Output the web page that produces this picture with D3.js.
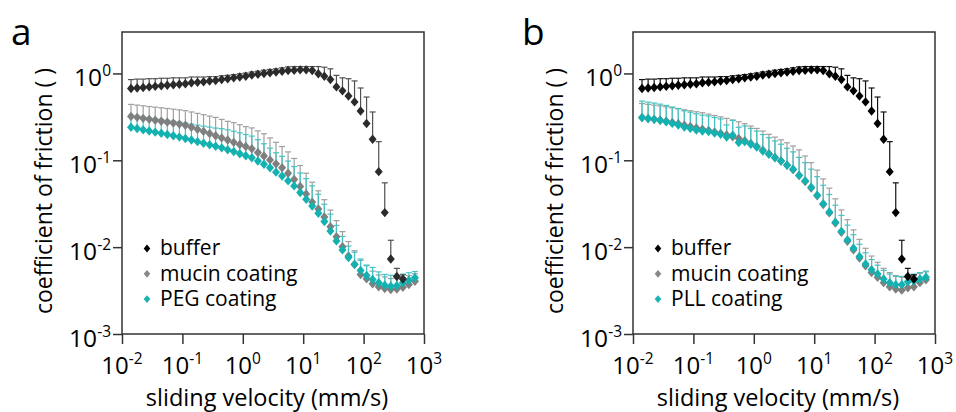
<!DOCTYPE html>
<html><head><meta charset="utf-8">
<script src="https://cdn.jsdelivr.net/npm/d3@7"></script>
<style>
body{margin:0;background:#fff}
svg{display:block}
text{font-family:"Open Sans",sans-serif;fill:#000}
</style>
</head><body>
<svg id="c" width="956" height="412"></svg>
<script>
// sliding velocity (mm/s)
const velocity = [0.0141,0.0178,0.0224,0.0282,0.0355,0.0447,0.0562,0.0708,0.0891,0.112,
  0.141,0.178,0.224,0.282,0.355,0.447,0.562,0.708,0.891,1.12,
  1.41,1.78,2.24,2.82,3.55,4.47,5.62,7.08,8.91,11.2,
  14.1,17.8,22.4,28.2,35.5,44.7,56.2,70.8,89.1,112,
  141,178,224,282,355,447,562,708];

const bufferCof = [0.67,0.68,0.69,0.70,0.71,0.72,0.73,0.74,0.75,0.76,
  0.78,0.79,0.80,0.82,0.83,0.85,0.87,0.89,0.91,0.93,
  0.96,0.98,1.00,1.02,1.04,1.06,1.08,1.09,1.10,1.10,
  1.08,0.99,0.93,0.85,0.70,0.63,0.55,0.47,0.37,0.265,
  0.175,0.074,0.025,0.0073,0.0046,0.0043];
const bufferErr = [0.18,0.18,0.17,0.17,0.16,0.16,0.15,0.15,0.14,0.13,
  0.13,0.12,0.11,0.10,0.09,0.09,0.08,0.08,0.08,0.08,
  0.08,0.08,0.09,0.09,0.09,0.10,0.11,0.11,0.10,0.10,
  0.12,0.21,0.25,0.28,0.25,0.26,0.32,0.35,0.31,0.27,
  0.185,0.09,0.03,0.0047,0.0011,0.0005];

const mucinCofA = [0.320,0.312,0.304,0.296,0.289,0.282,0.275,0.268,0.261,0.253,
  0.240,0.227,0.215,0.203,0.192,0.181,0.171,0.161,0.152,0.144,
  0.136,0.123,0.112,0.101,0.091,0.082,0.071,0.060,0.050,0.041,
  0.0330,0.0275,0.0222,0.0172,0.0132,0.0101,0.0079,0.0063,0.00485,0.00432,
  0.00379,0.00349,0.00334,0.00325,0.0033,0.00345,0.00371,0.00404];
const mucinErrA = [0.12,0.12,0.12,0.12,0.12,0.12,0.12,0.12,0.12,0.12,
  0.12,0.12,0.12,0.12,0.12,0.115,0.11,0.11,0.105,0.10,
  0.10,0.095,0.09,0.08,0.07,0.062,0.054,0.045,0.037,0.03,
  0.023,0.017,0.013,0.0095,0.007,0.005,0.0037,0.0028,0.0022,0.0018,
  0.0015,0.0013,0.0012,0.0011,0.0011,0.001,0.001,0.0009];

const pegCof = [0.240,0.232,0.224,0.217,0.211,0.205,0.198,0.192,0.185,0.178,
  0.171,0.164,0.157,0.151,0.145,0.139,0.132,0.126,0.119,0.113,
  0.107,0.098,0.090,0.082,0.073,0.066,0.058,0.0507,0.0425,0.0356,
  0.0298,0.0246,0.0197,0.0153,0.0118,0.0093,0.0076,0.00634,0.0054,0.00472,
  0.00424,0.00389,0.00365,0.00355,0.00361,0.00389,0.00417,0.00444];
const pegErr = [0.09,0.09,0.09,0.09,0.09,0.09,0.09,0.09,0.09,0.09,
  0.09,0.09,0.09,0.09,0.09,0.092,0.092,0.09,0.088,0.085,
  0.083,0.075,0.065,0.056,0.049,0.045,0.04,0.034,0.029,0.026,
  0.021,0.016,0.0115,0.0087,0.006,0.004,0.0027,0.0024,0.0019,0.0015,
  0.0016,0.0013,0.0012,0.0012,0.0011,0.001,0.0009,0.0008];

const mucinCofB = [0.31,0.303,0.296,0.289,0.281,0.272,0.263,0.254,0.245,0.236,
  0.228,0.22,0.212,0.204,0.196,0.187,0.178,0.168,0.156,0.144,
  0.131,0.119,0.108,0.098,0.088,0.078,0.067,0.057,0.048,0.039,
  0.031,0.0248,0.019,0.0148,0.0117,0.0093,0.0075,0.0061,0.0051,0.0045,
  0.0039,0.0035,0.0033,0.0032,0.0034,0.0035,0.0039,0.0042];
const mucinErrB = [0.14,0.138,0.136,0.134,0.132,0.13,0.129,0.128,0.127,0.126,
  0.125,0.12,0.116,0.112,0.108,0.104,0.1,0.096,0.092,0.089,
  0.086,0.08,0.077,0.074,0.071,0.068,0.065,0.055,0.046,0.038,
  0.03,0.023,0.017,0.012,0.009,0.0065,0.0048,0.0036,0.0028,0.0022,
  0.0018,0.0016,0.0014,0.0013,0.0012,0.0012,0.0011,0.001];

const pllCof = [0.31,0.302,0.296,0.288,0.278,0.266,0.255,0.241,0.233,0.223,
  0.217,0.214,0.206,0.199,0.185,0.194,0.16,0.164,0.153,0.142,
  0.128,0.117,0.107,0.098,0.0877,0.079,0.067,0.058,0.049,0.0397,
  0.0316,0.0254,0.0194,0.0152,0.0121,0.0097,0.0078,0.0064,0.0055,0.0049,
  0.0043,0.0039,0.0037,0.0037,0.004,0.0041,0.0043,0.0045];
const pllErr = [0.17,0.165,0.16,0.155,0.15,0.145,0.14,0.13,0.125,0.12,
  0.114,0.11,0.105,0.1,0.07,0.094,0.08,0.085,0.08,0.075,
  0.07,0.065,0.06,0.055,0.05,0.046,0.041,0.036,0.03,0.025,
  0.02,0.015,0.011,0.008,0.0058,0.0042,0.003,0.0022,0.0017,0.0013,
  0.0011,0.001,0.0009,0.0009,0.0008,0.0008,0.0008,0.0008];

const xTickExps = [-2,-1,0,1,2,3];
const yTickExps = [-3,-2,-1,0];
const panelLetters = ["a","b"];
const xTitle = "sliding velocity (mm/s)";
const yTitle = "coefficient of friction ( )";
const legendA = ["buffer","mucin coating","PEG coating"];
const legendB = ["buffer","mucin coating","PLL coating"];

const svg = d3.select("#c");
const diamond = (w,h) => `M0,${-h}L${w},0L0,${h}L${-w},0Z`;

const panels = [
  {dx:0, letter:panelLetters[0], legend:legendA, series:[
    {v:mucinCofA, e:mucinErrA, fill:"#7f7f7f", err:"#a0a0a0"},
    {v:pegCof, e:pegErr, fill:"#14b1b1", err:"#45c3c3"},
    {v:bufferCof, e:bufferErr, fill:"#2b2b2b", err:"#505050"}]},
  {dx:511, letter:panelLetters[1], legend:legendB, series:[
    {v:mucinCofB, e:mucinErrB, fill:"#7f7f7f", err:"#a0a0a0"},
    {v:pllCof, e:pllErr, fill:"#14b1b1", err:"#45c3c3"},
    {v:bufferCof, e:bufferErr, fill:"#000", err:"#111"}]}
];
const legendFill = [["#000","#888","#1ab3b3"],["#000","#888","#1ab3b3"]];

panels.forEach((p, pi) => {
  const L = 122 + p.dx, R = 424 + p.dx, T = 32, B = 334;
  const x = d3.scaleLog().domain([1e-2, 1e3]).range([L, R]);
  const y = d3.scaleLog().domain([1e-3, 3]).range([B, T]);
  const g = svg.append("g");

  g.append("rect").attr("x", L).attr("y", T).attr("width", R - L).attr("height", B - T)
    .attr("fill", "none").attr("stroke", "#333").attr("stroke-width", 1.5);

  const xAxis = g.append("g").attr("transform", `translate(0,${B})`)
    .call(d3.axisBottom(x).tickValues(xTickExps.map(e => Math.pow(10, e))).tickSize(10).tickFormat(""));
  const yAxis = g.append("g").attr("transform", `translate(${L},0)`)
    .call(d3.axisLeft(y).tickValues(yTickExps.map(e => Math.pow(10, e))).tickSize(9).tickFormat(""));
  [xAxis, yAxis].forEach(a => {
    a.select(".domain").remove();
    a.selectAll("line").attr("stroke", "#333").attr("stroke-width", 1.5);
  });

  xTickExps.forEach(e => {
    const t = g.append("text").attr("x", x(Math.pow(10, e))).attr("y", 374)
      .attr("text-anchor", "middle").attr("font-size", 24);
    t.append("tspan").text("10");
    t.append("tspan").attr("font-size", 15.5).attr("dy", -10).text(e < 0 ? "-" + (-e) : e);
  });
  yTickExps.forEach(e => {
    const t = g.append("text").attr("x", L - 11).attr("y", y(Math.pow(10, e)) + 12.5)
      .attr("text-anchor", "end").attr("font-size", 24.5);
    t.append("tspan").text("10");
    t.append("tspan").attr("font-size", 15.5).attr("dy", -10).text(e < 0 ? "-" + (-e) : e);
  });

  g.append("text").attr("x", 267 + p.dx).attr("y", 405.5).attr("text-anchor", "middle")
    .attr("font-size", 23.5).text(xTitle);
  g.append("text").attr("transform", `translate(${52 + p.dx},191) rotate(-90)`)
    .attr("text-anchor", "middle").attr("font-size", 23).text(yTitle);

  g.append("text").attr("x", 11 + p.dx).attr("y", 45).attr("font-size", 37).text(p.letter);

  p.series.forEach(s => {
    const eg = g.append("g").attr("stroke", s.err).attr("stroke-width", 1.2).attr("fill", "none");
    s.v.forEach((v, i) => {
      const cx = x(velocity[i]), y0 = y(v), y1 = y(v + s.e[i]);
      eg.append("line").attr("x1", cx).attr("x2", cx).attr("y1", y0).attr("y2", y1);
      eg.append("line").attr("x1", cx - 3).attr("x2", cx + 3).attr("y1", y1).attr("y2", y1);
    });
  });
  p.series.forEach(s => {
    g.append("g").selectAll("path").data(s.v).join("path")
      .attr("transform", (v, i) => `translate(${x(velocity[i])},${y(v)})`)
      .attr("d", diamond(4, 4.7)).attr("fill", s.fill);
  });

  p.legend.forEach((lab, k) => {
    const cy = 248.5 + k * 25.3;
    g.append("path").attr("transform", `translate(${L + 25},${cy})`)
      .attr("d", diamond(3.3, 3.9)).attr("fill", legendFill[pi][k]);
    g.append("text").attr("x", L + 38).attr("y", cy + 6.8).attr("font-size", 21).text(lab);
  });
});
</script>
</body></html>
